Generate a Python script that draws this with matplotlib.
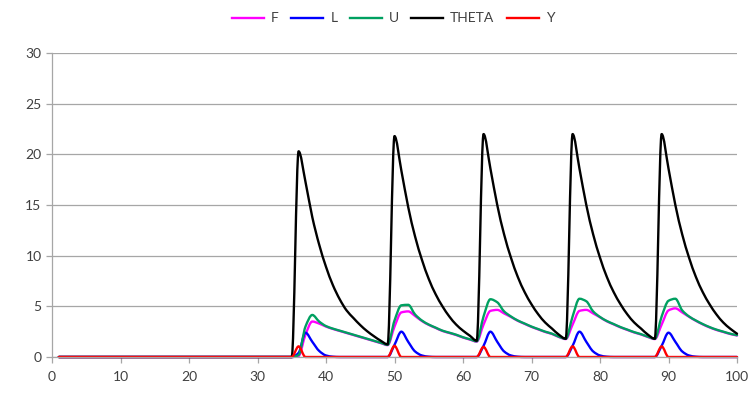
import matplotlib
matplotlib.use("Agg")
import matplotlib.pyplot as plt
import numpy as np
from matplotlib.path import Path
from matplotlib.patches import PathPatch
from matplotlib.lines import Line2D

x = list(range(1, 101))

THETA = [0, 0, 0, 0, 0, 0, 0, 0, 0, 0,
         0, 0, 0, 0, 0, 0, 0, 0, 0, 0,
         0, 0, 0, 0, 0, 0, 0, 0, 0, 0,
         0, 0, 0, 0, 0, 20.3, 17.3, 13.8, 11.1, 8.9,
         7.1, 5.7, 4.6, 3.85, 3.15, 2.55, 2.05, 1.6, 1.25, 21.8,
         18.4, 14.8, 11.9, 9.6, 7.7, 6.2, 5.0, 4.0, 3.2, 2.6,
         2.1, 1.6, 22.0, 18.6, 15.0, 12.1, 9.8, 7.9, 6.4, 5.2,
         4.2, 3.4, 2.8, 2.2, 1.8, 22.0, 18.6, 15.0, 12.1, 9.8,
         7.9, 6.4, 5.2, 4.2, 3.4, 2.8, 2.2, 1.8, 22.0, 18.6,
         15.0, 12.1, 9.8, 7.9, 6.4, 5.2, 4.2, 3.4, 2.8, 2.3]

U = [0, 0, 0, 0, 0, 0, 0, 0, 0, 0,
     0, 0, 0, 0, 0, 0, 0, 0, 0, 0,
     0, 0, 0, 0, 0, 0, 0, 0, 0, 0,
     0, 0, 0, 0, 0, 0.2, 3.0, 4.15, 3.5, 3.05,
     2.8, 2.6, 2.4, 2.2, 2.0, 1.8, 1.6, 1.4, 1.2, 3.6,
     5.1, 5.15, 4.2, 3.6, 3.2, 2.9, 2.6, 2.4, 2.2, 1.95,
     1.75, 1.55, 4.0, 5.7, 5.4, 4.5, 4.0, 3.6, 3.3, 3.0,
     2.75, 2.5, 2.3, 2.0, 1.8, 4.0, 5.75, 5.5, 4.5, 3.95,
     3.55, 3.25, 2.95, 2.7, 2.45, 2.25, 2.0, 1.8, 4.0, 5.55,
     5.75, 4.6, 4.0, 3.6, 3.25, 2.95, 2.7, 2.5, 2.3, 2.15]

F = [0, 0, 0, 0, 0, 0, 0, 0, 0, 0,
     0, 0, 0, 0, 0, 0, 0, 0, 0, 0,
     0, 0, 0, 0, 0, 0, 0, 0, 0, 0,
     0, 0, 0, 0, 0, 0.1, 2.2, 3.5, 3.3, 3.0,
     2.77, 2.57, 2.37, 2.17, 1.97, 1.77, 1.57, 1.37, 1.17, 3.0,
     4.4, 4.5, 4.05, 3.55, 3.17, 2.87, 2.57, 2.37, 2.17, 1.92,
     1.72, 1.52, 3.2, 4.55, 4.65, 4.3, 3.95, 3.57, 3.27, 2.97,
     2.72, 2.47, 2.27, 1.97, 1.77, 3.2, 4.55, 4.65, 4.3, 3.92,
     3.52, 3.22, 2.92, 2.67, 2.42, 2.22, 1.97, 1.77, 3.2, 4.6,
     4.8, 4.4, 3.97, 3.57, 3.22, 2.92, 2.67, 2.47, 2.27, 2.12]

L = [0, 0, 0, 0, 0, 0, 0, 0, 0, 0,
     0, 0, 0, 0, 0, 0, 0, 0, 0, 0,
     0, 0, 0, 0, 0, 0, 0, 0, 0, 0,
     0, 0, 0, 0, 0, 0.4, 2.4, 1.5, 0.6, 0.15,
     0.03, 0, 0, 0, 0, 0, 0, 0, 0, 1.2,
     2.5, 1.5, 0.55, 0.15, 0.03, 0, 0, 0, 0, 0,
     0, 0, 1.1, 2.5, 1.5, 0.55, 0.15, 0.03, 0, 0,
     0, 0, 0, 0, 0, 1.1, 2.5, 1.5, 0.55, 0.15,
     0.03, 0, 0, 0, 0, 0, 0, 0, 1.1, 2.4,
     1.5, 0.55, 0.15, 0.03, 0, 0, 0, 0, 0, 0]

Y = [0, 0, 0, 0, 0, 0, 0, 0, 0, 0,
     0, 0, 0, 0, 0, 0, 0, 0, 0, 0,
     0, 0, 0, 0, 0, 0, 0, 0, 0, 0,
     0, 0, 0, 0, 0, 1.05, 0, 0, 0, 0,
     0, 0, 0, 0, 0, 0, 0, 0, 0, 1.1,
     0, 0, 0, 0, 0, 0, 0, 0, 0, 0,
     0, 0, 1.0, 0, 0, 0, 0, 0, 0, 0,
     0, 0, 0, 0, 0, 1.05, 0, 0, 0, 0,
     0, 0, 0, 0, 0, 0, 0, 0, 1.05, 0,
     0, 0, 0, 0, 0, 0, 0, 0, 0, 0]

names = ["F", "L", "U", "THETA", "Y"]
colors = ["#FF00FF", "#0000FF", "#00A060", "#000000", "#FF0000"]
values = [F, L, U, THETA, Y]


def smooth_path(xs, ys):
    """Smoothed (monotone cubic Bezier) path through the data points,
    similar to a spreadsheet 'smoothed line'."""
    xs = np.asarray(xs, float)
    ys = np.asarray(ys, float)
    h = np.diff(xs)
    d = np.diff(ys) / h
    m = np.zeros_like(ys)
    m[0], m[-1] = d[0], d[-1]
    for k in range(1, len(ys) - 1):
        a, b = d[k - 1], d[k]
        if a * b > 0:
            m[k] = 2 * a * b / (a + b)
    verts = [(xs[0], ys[0])]
    codes = [Path.MOVETO]
    for k in range(len(xs) - 1):
        verts += [(xs[k] + h[k] / 3, ys[k] + m[k] * h[k] / 3),
                  (xs[k + 1] - h[k] / 3, ys[k + 1] - m[k + 1] * h[k] / 3),
                  (xs[k + 1], ys[k + 1])]
        codes += [Path.CURVE4] * 3
    return Path(verts, codes)


plt.rcParams['font.family'] = ['Lato', 'DejaVu Sans']
fig = plt.figure(figsize=(7.52, 3.96), dpi=100)
ax = fig.add_axes([52 / 752, 39 / 396, 685 / 752, 304 / 396])

handles = []
for name, vals, col in zip(names, values, colors):
    patch = PathPatch(smooth_path(x, vals), facecolor="none", edgecolor=col,
                      lw=1.7, clip_on=False, joinstyle="round",
                      capstyle="round")
    ax.add_patch(patch)
    handles.append(Line2D([], [], color=col, lw=1.7, label=name))

ax.set_xlim(0, 100)
ax.set_ylim(0, 30)
ax.set_xticks(range(0, 101, 10))
ax.set_yticks(range(0, 31, 5))
ax.yaxis.grid(True, color="#A6A6A6", lw=0.9)
ax.set_axisbelow(True)
for s in ["top", "right"]:
    ax.spines[s].set_visible(False)
for s in ["left", "bottom"]:
    ax.spines[s].set_color("#A6A6A6")
    ax.spines[s].set_linewidth(0.9)
ax.tick_params(axis='both', colors="#A6A6A6", labelcolor="#404040",
               labelsize=10, length=4, width=0.9)
ax.tick_params(axis='x', pad=6)

fig.legend(handles=handles, loc="upper center", bbox_to_anchor=(0.523, 1.0),
           ncol=5, frameon=False, fontsize=10, handlelength=2.3,
           columnspacing=0.9, handletextpad=0.5, labelcolor="#404040")

fig.savefig("out.png", dpi=100)
